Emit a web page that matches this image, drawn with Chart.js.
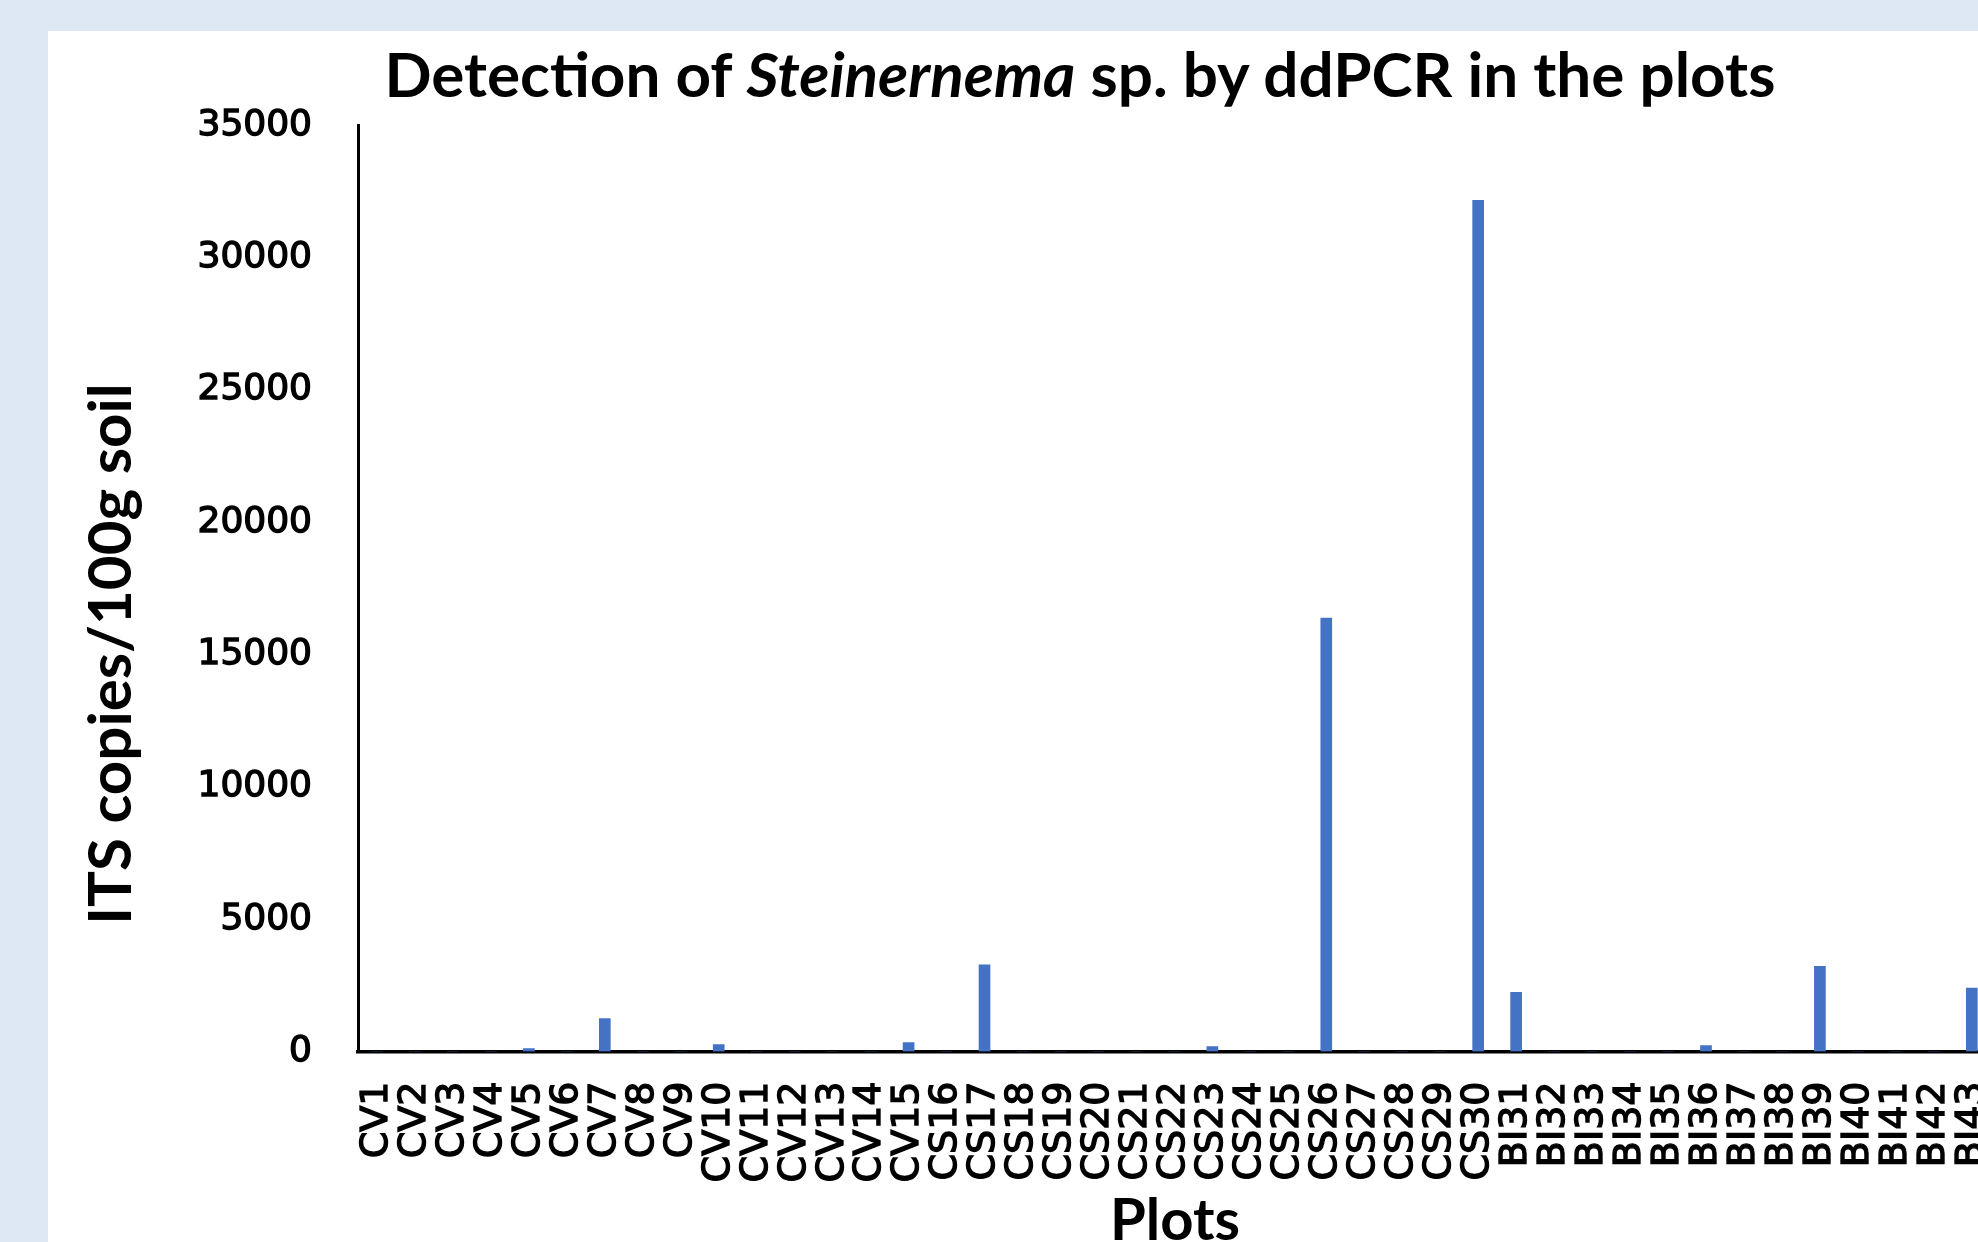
<!DOCTYPE html>
<html>
<head>
<meta charset="utf-8">
<script src="https://cdn.jsdelivr.net/npm/chart.js@4"></script>
<style>
  html, body { margin: 0; padding: 0; }
  body {
    width: 1978px;
    height: 1242px;
    overflow: hidden;
    background: #dde8f4;
    position: relative;
  }
  #panel {
    position: absolute;
    left: 48px;
    top: 31px;
    width: 2100px;
    height: 1300px;
    background: #ffffff;
  }
  #wrap {
    position: absolute;
    left: 48px;
    top: 31px;
  }
  .lbl {
    position: absolute;
    font-family: Lato, "Open Sans", sans-serif;
    font-weight: bold;
    color: #000;
    white-space: nowrap;
    text-align: center;
  }
  #title { left: 0; width: 2160px; top: 42px; font-size: 62px; line-height: 62px; }
  #ytitle {
    left: 108px; top: 654px; width: 700px;
    font-size: 60px; line-height: 60px;
    transform: translate(-50%, -50%) rotate(-90deg);
  }
  #xtitle { left: 875px; width: 600px; top: 1189px; font-size: 58px; line-height: 58px; }
</style>
</head>
<body>
<div id="panel"></div>
<div id="wrap"><canvas id="chart" width="2000" height="1211"></canvas></div>
<div id="title" class="lbl">Detection of <i>Steinernema</i> sp. by ddPCR in the plots</div>
<div id="ytitle" class="lbl">ITS copies/100g soil</div>
<div id="xtitle" class="lbl">Plots</div>
<script>
// plots, read left to right (the picture is cut after BI43)
const plots = [
  "CV1", "CV2", "CV3", "CV4", "CV5", "CV6", "CV7", "CV8", "CV9", "CV10",
  "CV11", "CV12", "CV13", "CV14", "CV15",
  "CS16", "CS17", "CS18", "CS19", "CS20", "CS21", "CS22", "CS23", "CS24", "CS25",
  "CS26", "CS27", "CS28", "CS29", "CS30",
  "BI31", "BI32", "BI33", "BI34", "BI35", "BI36", "BI37", "BI38", "BI39", "BI40",
  "BI41", "BI42", "BI43"
];

// ITS copies / 100g soil
const itsCopies = [
  0, 0, 0, 0, 110, 0, 1240, 0, 0, 265,
  0, 0, 0, 0, 340,
  0, 3280, 0, 0, 0, 0, 0, 190, 0, 0,
  16380, 0, 0, 0, 32170,
  2240, 0, 0, 0, 0, 227, 0, 0, 3220, 0,
  0, 0, 2400
];

const yTicks = [0, 5000, 10000, 15000, 20000, 25000, 30000, 35000];

const ctx = document.getElementById("chart").getContext("2d");
new Chart(ctx, {
  type: "bar",
  data: {
    labels: plots,
    datasets: [
      {
        label: "ITS copies/100g soil",
        data: itsCopies,
        backgroundColor: "#4472c4",
        barThickness: 11,
      },
    ],
  },
  options: {
    responsive: false,
    animation: false,
    layout: {
      padding: { left: 0, top: 94.5, right: 52, bottom: 0 },
    },
    plugins: {
      legend: { display: false },
      title: { display: false },
      tooltip: { enabled: false },
    },
    scales: {
      x: {
        grid: { display: false, drawTicks: false },
        border: { color: "#000", width: 3.5 },
        ticks: {
          autoSkip: false,
          minRotation: 90,
          maxRotation: 90,
          padding: 30,
          color: "#000",
          textStrokeColor: "#000",
          textStrokeWidth: 1.4,
          font: { family: "DejaVu Sans", size: 38 },
        },
        afterFit: (scale) => {
          scale.height = 190.5;
        },
      },
      y: {
        min: 0,
        max: yTicks[yTicks.length - 1],
        grid: { display: false, drawTicks: false },
        border: { color: "#000", width: 3 },
        ticks: {
          stepSize: yTicks[1] - yTicks[0],
          padding: 46,
          color: "#000",
          textStrokeColor: "#000",
          textStrokeWidth: 1.4,
          font: { family: "DejaVu Sans", size: 36 },
          callback: (v) => String(v),
        },
        afterFit: (scale) => {
          scale.width = 310;
        },
      },
    },
  },
});
</script>
</body>
</html>
